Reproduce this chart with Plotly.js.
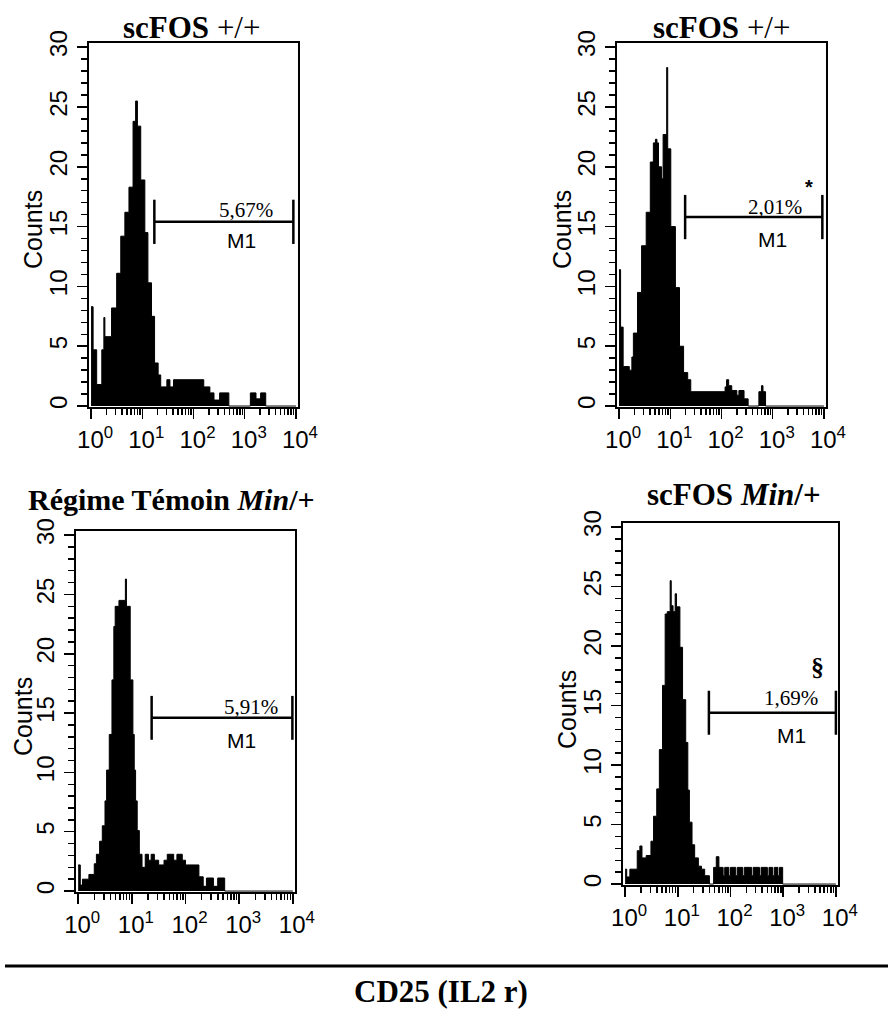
<!DOCTYPE html>
<html><head><meta charset="utf-8">
<script src="https://cdn.plot.ly/plotly-3.0.1.min.js"></script>
<style>html,body{margin:0;padding:0;background:#fff}</style>
</head><body><div id="chart" style="width:888px;height:1009px"></div>
<script>
// ---- Data (histogram steps: log10 of fluorescence where each step starts; last value = end) ----
const tlSteps  = [0.00,0.04,0.11,0.21,0.25,0.27,0.40,0.50,0.58,0.66,0.74,0.82,0.87,0.905,0.97,1.05,1.11,1.18,1.24,1.31,1.36,1.48,1.54,1.61,2.20,2.32,2.40,2.51,2.69,3.11,3.22,3.31,3.41,4.0];
const tlCounts = [8.3,4.7,1.8,4.7,7.4,5.8,8.2,11.1,14.2,16.2,18.3,23.8,25.5,23.4,18.9,14.5,10.3,7.5,3.6,2.6,1.6,2.2,1.6,2.2,1.6,1.1,0.5,1.1,0,1.1,0.6,1.1,0];

const trSteps  = [0.00,0.03,0.08,0.20,0.25,0.28,0.36,0.44,0.53,0.61,0.67,0.71,0.74,0.77,0.83,0.86,0.93,0.95,1.01,1.10,1.18,1.26,1.34,1.40,2.07,2.10,2.14,2.20,2.30,2.34,2.44,2.52,2.73,2.78,2.81,2.86,4.0];
const trCounts = [11.4,6.6,3.3,3.0,4.1,6.1,9.5,13.4,16.2,20.4,22.0,22.3,22.0,20.0,19.0,22.7,28.3,21.5,15.0,9.9,5.0,2.8,2.2,1.2,1.6,2.2,1.7,1.3,0.9,1.3,0.6,0,1.2,1.7,1.2,0];

const blSteps  = [0.00,0.04,0.08,0.20,0.30,0.34,0.40,0.45,0.50,0.53,0.58,0.63,0.665,0.69,0.76,0.88,0.90,0.97,1.02,1.045,1.07,1.10,1.14,1.19,1.25,1.31,1.36,1.42,1.50,1.60,1.66,1.78,1.84,1.94,2.00,2.25,2.33,2.39,2.52,2.60,2.73,4.0];
const blCounts = [2.2,0.5,1.0,1.4,2.3,3.1,4.2,5.5,7.6,10.2,13.2,17.8,22.3,24.0,24.5,26.3,24.0,17.8,13.2,10.2,7.6,5.1,3.1,2.0,3.1,2.6,3.1,2.6,2.2,2.6,3.1,2.6,3.1,2.6,2.2,1.2,0.4,1.1,0.4,1.1,0];

const brSteps  = [0.00,0.03,0.09,0.23,0.28,0.32,0.40,0.49,0.54,0.60,0.65,0.71,0.76,0.80,0.855,0.875,0.91,0.95,0.975,1.04,1.09,1.15,1.19,1.22,1.27,1.32,1.39,1.45,1.51,1.60,1.68,1.73,1.78,1.86,1.89,1.97,2.00,2.10,2.13,2.23,2.26,2.40,2.43,2.55,2.58,2.70,2.73,2.80,2.83,2.90,2.93,2.99,4.0];
const brCounts = [1.25,0.6,1.25,2.8,3.2,2.2,2.4,3.6,5.7,8.0,11.3,16.7,22.7,22.9,25.5,23.4,22.9,24.4,23.3,19.9,15.5,11.9,7.9,5.2,3.3,2.2,1.5,1.25,0.7,0,1.4,2.3,1.4,0.7,1.4,0.7,1.4,0.7,1.4,0.7,1.4,0.7,1.4,0.7,1.4,0.7,1.4,0.7,1.4,0.7,1.4,0];

// M1 marker gates
const gateStart = [17.2, 19.5, 23.4, 38.9];
const gateEnd   = [8900, 9300, 9800, 10000];
const gateLevel = [15.4, 15.8, 14.6, 14.4];
const gatePct   = ['5,67%', '2,01%', '5,91%', '1,69%'];
const gateMark  = ['', '*', '', '§'];
const gateName  = 'M1';

const panelTitles = ['<b>scFOS</b> +/+', '<b>scFOS</b> +/+', '<b>Régime Témoin <i>Min</i>/+</b>', '<b>scFOS <i>Min</i>/+</b>'];
const yTitle = 'Counts';
const xTitle = '<b>CD25 (IL2 r)</b>';
const xTickVals = [1, 10, 100, 1000, 10000];
const xTickText = ['10<sup>0</sup>', '10<sup>1</sup>', '10<sup>2</sup>', '10<sup>3</sup>', '10<sup>4</sup>'];
const yTickVals = [0, 5, 10, 15, 20, 25, 30];

// ---- Layout helpers ----
const W = 888, H = 1009;
const SANS = '"Liberation Sans", Arial, sans-serif';
const SERIF = '"Liberation Serif", "Times New Roman", serif';
const px = x => x / W, py = y => 1 - y / H;

// panel frames in pixels: [left, right, top, bottom]
const frames = [[89, 298, 43, 407], [617, 826, 43, 407], [76, 295, 531, 892], [623, 838, 523, 885]];

const minorVals = [];
for (let k = 0; k < 4; k++) for (let d = 2; d <= 9; d++) minorVals.push(d * Math.pow(10, k));

const steps = [tlSteps, trSteps, blSteps, brSteps];
const counts = [tlCounts, trCounts, blCounts, brCounts];

const data = [];
const layout = {
  width: W, height: H, margin: {l: 0, r: 0, t: 0, b: 0},
  paper_bgcolor: '#fff', plot_bgcolor: '#fff', showlegend: false,
  annotations: [], shapes: []
};

const capHalf = 1.85;
frames.forEach((f, i) => {
  const n = i === 0 ? '' : String(i + 1);
  const xa = 'x' + n, ya = 'y' + n;
  const xs = steps[i].map(e => Math.pow(10, e));
  const ys = counts[i].concat([0]);
  data.push({type: 'scatter', mode: 'lines', x: xs, y: ys, xaxis: xa, yaxis: ya,
    line: {shape: 'hv', color: '#000', width: 1}, fill: 'tozeroy', fillcolor: '#000', hoverinfo: 'skip'});
  const s = gateStart[i], e = gateEnd[i], l = gateLevel[i];
  data.push({type: 'scatter', mode: 'lines', xaxis: xa, yaxis: ya,
    x: [s, e, null, s, s, null, e, e], y: [l, l, null, l - capHalf, l + capHalf, null, l - capHalf, l + capHalf],
    line: {color: '#000', width: 2.5}, hoverinfo: 'skip', connectgaps: false});

  layout['xaxis' + n] = {
    domain: [px(f[0]), px(f[1])], anchor: ya, type: 'log', range: [-0.04, 4.04],
    tickmode: 'array', tickvals: xTickVals, ticktext: xTickText,
    ticks: 'outside', ticklen: 10, tickwidth: 1.5, tickcolor: '#000',
    minor: {tickmode: 'array', tickvals: minorVals, ticks: 'outside', ticklen: 6, tickwidth: 1.5, tickcolor: '#000'},
    showline: true, linecolor: '#000', linewidth: 2, mirror: true, showgrid: false, zeroline: false,
    tickfont: {family: SANS, size: 24, color: '#000'}, ticklabelshift: 4,
    automargin: false, fixedrange: true
  };
  layout['yaxis' + n] = {
    domain: [py(f[3]), py(f[2])], anchor: xa, range: [-0.08, 30.35],
    tickmode: 'array', tickvals: yTickVals, tickangle: 270,
    ticks: 'outside', ticklen: 10, tickwidth: 1.5, tickcolor: '#000',
    minor: {dtick: 1, ticks: 'outside', ticklen: 6, tickwidth: 1.5, tickcolor: '#000'},
    showline: true, linecolor: '#000', linewidth: 2, mirror: true, showgrid: false, zeroline: false,
    tickfont: {family: SANS, size: 24, color: '#000'},
    automargin: false, fixedrange: true
  };
});

const titlePos = [[191, 27], [721, 27], [171, 500], [734, 495]];
const titleSize = [31, 31, 30, 31];
titlePos.forEach((p, i) => layout.annotations.push({
  xref: 'paper', yref: 'paper', x: px(p[0]), y: py(p[1]), xanchor: 'center', yanchor: 'middle',
  text: panelTitles[i], showarrow: false, font: {family: SERIF, size: titleSize[i], color: '#000'}
}));
const countsPos = [[33, 230], [562, 230], [23, 717], [567, 710]];
countsPos.forEach(p => layout.annotations.push({
  xref: 'paper', yref: 'paper', x: px(p[0]), y: py(p[1]), xanchor: 'center', yanchor: 'middle',
  text: yTitle, textangle: -90, showarrow: false, font: {family: SANS, size: 25, color: '#000'}
}));
const pctPos = [[3.02, 16.35], [3.04, 16.6], [3.22, 15.5], [3.14, 15.6]];
const m1Pos = [[2.94, 13.8], [3.0, 13.9], [3.05, 12.7], [3.15, 12.5]];
const markPos = [null, [3.71, 18.3], null, [3.65, 18.2]];
frames.forEach((f, i) => {
  const n = i === 0 ? '' : String(i + 1);
  layout.annotations.push({xref: 'x' + n, yref: 'y' + n, x: pctPos[i][0], y: pctPos[i][1], text: gatePct[i],
    showarrow: false, xanchor: 'center', yanchor: 'middle', font: {family: SERIF, size: 21, color: '#000'}});
  layout.annotations.push({xref: 'x' + n, yref: 'y' + n, x: m1Pos[i][0], y: m1Pos[i][1], text: gateName,
    showarrow: false, xanchor: 'center', yanchor: 'middle', font: {family: SANS, size: 21, color: '#000'}});
  if (markPos[i]) layout.annotations.push({xref: 'x' + n, yref: 'y' + n, x: markPos[i][0], y: markPos[i][1],
    text: '<b>' + gateMark[i] + '</b>', showarrow: false, xanchor: 'center', yanchor: 'middle',
    font: {family: gateMark[i] === '*' ? SANS : SERIF, size: gateMark[i] === '*' ? 20 : 26, color: '#000'}});
});
layout.annotations.push({xref: 'paper', yref: 'paper', x: px(441), y: py(991), xanchor: 'center', yanchor: 'middle',
  text: xTitle, showarrow: false, font: {family: SERIF, size: 31, color: '#000'}});
layout.shapes.push({type: 'line', xref: 'paper', yref: 'paper', x0: px(5), x1: 1, y0: py(966), y1: py(966),
  line: {color: '#000', width: 3}});

Plotly.newPlot('chart', data, layout, {staticPlot: true, displayModeBar: false}).then(gd => {
  // Fallback: if the y tick labels were not rotated, draw them rotated at the axis' own tick values
  const t = document.querySelector('.ytick text');
  const tr = t ? (t.getAttribute('transform') || '') : '';
  if (!/rotate/.test(tr)) {
    const upd = {};
    const ann = layout.annotations.slice();
    frames.forEach((f, i) => {
      const n = i === 0 ? '' : String(i + 1);
      upd['yaxis' + n + '.showticklabels'] = false;
      yTickVals.forEach(v => ann.push({xref: 'paper', yref: 'y' + n, x: px(f[0] - 23), y: v,
        xanchor: 'center', yanchor: 'middle', text: String(v), textangle: -90, showarrow: false,
        font: {family: SANS, size: 24, color: '#000'}}));
    });
    upd.annotations = ann;
    Plotly.relayout(gd, upd);
  }
});
</script>
</body></html>
